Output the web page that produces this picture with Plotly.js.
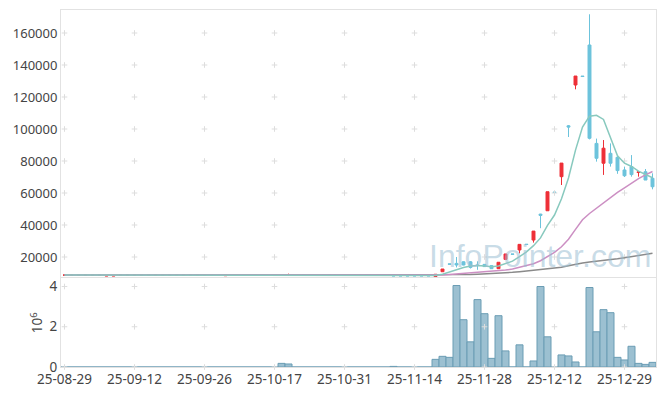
<!DOCTYPE html>
<html><head><meta charset="utf-8">
<script src="https://cdn.plot.ly/plotly-3.0.1.min.js"></script>
<style>html,body{margin:0;padding:0;background:#fff;}#chart{width:665px;height:396px;}</style>
</head><body><div id="chart"></div>
<script>
const dates = [
"25-08-29",
"25-09-01","25-09-02","25-09-03","25-09-04","25-09-05",
"25-09-08","25-09-09","25-09-10","25-09-11","25-09-12",
"25-09-15","25-09-16","25-09-17","25-09-18","25-09-19",
"25-09-22","25-09-23","25-09-24","25-09-25","25-09-26",
"25-09-29","25-09-30","25-10-01","25-10-02",
"25-10-10","25-10-13","25-10-14","25-10-15","25-10-16","25-10-17",
"25-10-20","25-10-21","25-10-22","25-10-23","25-10-24",
"25-10-27","25-10-28","25-10-29","25-10-30","25-10-31",
"25-11-03","25-11-04","25-11-05","25-11-06","25-11-07",
"25-11-10","25-11-11","25-11-12","25-11-13","25-11-14",
"25-11-17","25-11-18","25-11-19","25-11-20","25-11-21",
"25-11-24","25-11-25","25-11-26","25-11-27","25-11-28",
"25-12-01","25-12-02","25-12-03","25-12-04","25-12-05",
"25-12-08","25-12-09","25-12-10","25-12-11","25-12-12",
"25-12-15","25-12-16","25-12-17","25-12-18","25-12-19",
"25-12-22","25-12-23","25-12-24","25-12-26","25-12-29",
"25-12-30","26-01-02","26-01-05","26-01-06"];

const openP = [
8700,8700,8700,8700,8700,8700,8100,8100,8700,8700,
8700,8700,8700,8700,8700,8700,8700,8700,8700,8700,
8700,8700,8750,8300,8700,8700,8750,8750,8700,8450,
8700,8700,8700,8450,8700,8700,8700,8700,8700,8700,
8700,8700,8700,8700,8700,8700,8700,
8400,8400,8400,8400,8400,8400,
7800,10800,15700,16000,17000,17000,15000,15400,14600,12700,
18500,21900,24400,28000,30600,46800,48900,60600,70200,102000,
127500,133100,152500,91000,78600,84800,82300,74400,76500,72800,
73300,69200];
const highP = [
8750,8750,8750,8750,8750,8750,8450,8450,8750,8750,
8750,8750,8750,8750,8750,8750,8750,8750,8750,8750,
8750,8750,8800,8650,8750,8750,8800,8800,8750,8700,
8750,8750,9600,8700,8750,8750,8750,8750,8750,8750,
8750,8750,8750,8750,8750,8750,8750,
8450,8450,8450,8450,8450,8450,
9200,12500,15800,20000,17300,17500,17300,15600,14800,16700,
21900,21900,27900,28000,36200,47000,60800,60600,78700,102500,
133100,133100,171700,94000,93100,91000,83000,76500,83700,73400,
75000,72300];
const lowP = [
8650,8650,8650,8650,8650,8650,8050,8050,8650,8650,
8650,8650,8650,8650,8650,8650,8650,8650,8650,8650,
8650,8650,8500,8250,8650,8650,8500,8500,8650,8400,
8650,8650,8600,8400,8650,8650,8650,8650,8650,8650,
8650,8650,8650,8650,8650,8650,8650,
8150,8150,8150,8150,8150,8150,
7600,10800,15400,13500,14800,12800,12000,13800,12500,12500,
18200,21600,22300,27700,29000,38000,48900,60200,65000,95000,
124800,132700,93500,79600,71300,76500,72000,70000,70200,70200,
68100,62300];
const closeP = [
8700,8700,8700,8700,8700,8700,8400,8400,8700,8700,
8700,8700,8700,8700,8700,8700,8700,8700,8700,8700,
8700,8700,8550,8600,8700,8700,8550,8550,8700,8650,
8700,8700,8800,8650,8700,8700,8700,8700,8700,8700,
8700,8700,8700,8700,8700,8700,8700,
8200,8200,8200,8200,8200,8200,
9200,12500,15500,15000,15000,13500,14700,14000,12700,16700,
21900,21700,27900,27800,36200,46000,60800,60300,78700,101200,
133100,132800,94200,81700,88000,78600,74000,70800,71500,73200,
68100,63900];

const volume = [
0,0,0,0,0,0,0,0,0,0,
0,0,0,0,0,0,0,0,0,0,
0,0,0,0,0,0,0,0,0,0,
0,0.18,0.15,0,0,0,0,0,0,0,
0,0,0,0,0,0,0,0.03,0,0,
0,0,0,0.38,0.53,0.48,4.05,2.35,1.25,3.35,
2.65,0.43,2.55,0.8,0,1.1,0,0.3,4.0,1.5,
0,0.6,0.55,0.25,0,3.95,1.75,2.85,2.7,0.48,
0.35,1.03,0.18,0.13,0.23];

const ma5 = [
8700,8700,8700,8700,8700,8700,8700,8700,8700,8700,
8700,8700,8700,8700,8700,8700,8700,8700,8700,8700,
8700,8700,8700,8700,8700,8700,8700,8700,8700,8700,
8700,8700,8700,8700,8700,8700,8700,8700,8700,8700,
8700,8700,8700,8700,8700,8700,8700,
8650,8600,8500,8400,8300,8250,
8400,9260,10740,12100,13460,14320,14760,14440,13980,14320,
16000,17400,20180,23200,27100,31920,39740,46220,56400,69400,
86820,101220,108000,108600,105960,95060,83300,78620,76580,73620,
71520,69500];
const ma20 = [
8700,8700,8700,8700,8700,8700,8700,8700,8700,8700,
8700,8700,8700,8700,8700,8700,8700,8700,8700,8700,
8700,8700,8700,8700,8700,8700,8700,8700,8700,8700,
8700,8700,8700,8700,8700,8700,8700,8700,8700,8700,
8700,8700,8700,8700,8700,8700,8700,
8680,8660,8640,8620,8600,8580,
8575,8765,9110,9425,9740,9980,10280,10545,10745,11145,
11805,12455,13415,14370,15770,17660,20290,22895,26420,31070,
37265,43280,47210,50545,54195,57450,60415,63255,66195,69020,
71330,73440];
const ma100 = [
8700,8700,8700,8700,8700,8700,8700,8700,8700,8700,
8700,8700,8700,8700,8700,8700,8700,8700,8700,8700,
8700,8700,8700,8700,8700,8700,8700,8700,8700,8700,
8700,8700,8700,8700,8700,8700,8700,8700,8700,8700,
8700,8700,8700,8700,8700,8700,8700,
8700,8700,8700,8700,8700,8700,
8700,8750,8800,8850,8950,9050,9200,9350,9550,9800,
10100,10400,10800,11200,11600,12000,12450,12950,13600,14500,
15500,16300,16900,17300,17800,18300,18900,19500,20100,20700,
21500,22300];

const tickLabels = ["25-08-29","25-09-12","25-09-26","25-10-17","25-10-31","25-11-14","25-11-28","25-12-12","25-12-29"];
const priceTicks = [20000,40000,60000,80000,100000,120000,140000,160000];
const priceTickText = ["20000","40000","60000","80000","100000","120000","140000","160000"];
const volTicks = [0,2,4];

const FONT = "Noto Sans, sans-serif";
const TXT = "#444444";
const BORDER = "#e2e2e2";

function crossGrid(yVals, xa, ya) {
  const xs = [], ys = [];
  tickLabels.forEach(function (t) { yVals.forEach(function (v) { xs.push(t); ys.push(v); }); });
  return {type: "scatter", mode: "markers", x: xs, y: ys, xaxis: xa, yaxis: ya,
    marker: {symbol: "cross-thin", size: 4, color: "#dddddd", line: {width: 1, color: "#dddddd"}},
    hoverinfo: "skip", showlegend: false, cliponaxis: false};
}

const lineTrace = function (vals, color) {
  return {type: "scatter", mode: "lines", x: dates, y: vals, xaxis: "x", yaxis: "y",
    line: {color: color, width: 1.5}, hoverinfo: "skip", showlegend: false};
};

const traces = [
  crossGrid(priceTicks, "x", "y"),
  crossGrid(volTicks, "x2", "y2"),
  lineTrace(ma100, "#8a8a8a"),
  lineTrace(ma20, "#cc8fc3"),
  lineTrace(ma5, "#88c9be"),
  {type: "candlestick", x: dates, open: openP, high: highP, low: lowP, close: closeP,
   xaxis: "x", yaxis: "y", whiskerwidth: 0,
   increasing: {line: {color: "#ee2f37", width: 1}, fillcolor: "#ee2f37"},
   decreasing: {line: {color: "#6cc3dc", width: 1}, fillcolor: "#6cc3dc"},
   hoverinfo: "skip", showlegend: false},
  {type: "bar", x: dates, y: volume, xaxis: "x2", yaxis: "y2",
   marker: {color: "#9cc0d1", line: {color: "#6b9db4", width: 1}},
   hoverinfo: "skip", showlegend: false}
];

const xCommon = {type: "category", categoryorder: "array", categoryarray: dates,
  range: [-0.5, 84.5], showgrid: false, zeroline: false, showline: true, mirror: true,
  linecolor: BORDER, linewidth: 1, ticks: "", fixedrange: true};

const layout = {
  width: 665, height: 396,
  margin: {l: 61, r: 9, t: 10, b: 29, pad: 0},
  paper_bgcolor: "#ffffff", plot_bgcolor: "#ffffff",
  font: {family: FONT, size: 13, color: TXT},
  showlegend: false, boxgap: 0.4, bargap: 0,
  xaxis: Object.assign({}, xCommon, {anchor: "y", showticklabels: false, rangeslider: {visible: false}}),
  xaxis2: Object.assign({}, xCommon, {anchor: "y2", tickmode: "array", tickvals: tickLabels, ticktext: tickLabels,
    tickangle: 0, tickfont: {family: FONT, size: 13.5, color: TXT}, rangeslider: {visible: false}}),
  yaxis: {domain: [0.252, 1], range: [7475, 174375], tickmode: "array", tickvals: priceTicks, ticktext: priceTickText,
    showgrid: false, zeroline: false, showline: true, mirror: true, linecolor: BORDER, ticks: "",
    tickfont: {family: FONT, size: 13, color: TXT}, anchor: "x"},
  yaxis2: {domain: [0, 0.248], range: [0, 4.4], tickmode: "array", tickvals: volTicks, ticktext: ["0","2","4"],
    showgrid: false, zeroline: false, showline: true, mirror: true, linecolor: BORDER, ticks: "",
    tickfont: {family: FONT, size: 13.5, color: TXT}, anchor: "x2",
    title: {text: "10<sup>6</sup>", font: {family: FONT, size: 13.5, color: TXT}, standoff: 3}},
  annotations: [{text: "InfoPointer.com", xref: "paper", yref: "paper", x: 0.805, y: 0.31,
    xanchor: "center", yanchor: "middle", showarrow: false,
    font: {family: "Liberation Sans, Arial, sans-serif", size: 32, color: "rgba(155,190,210,0.55)"}}]
};

Plotly.newPlot("chart", traces, layout, {displayModeBar: false, staticPlot: true});
</script>
</body></html>
